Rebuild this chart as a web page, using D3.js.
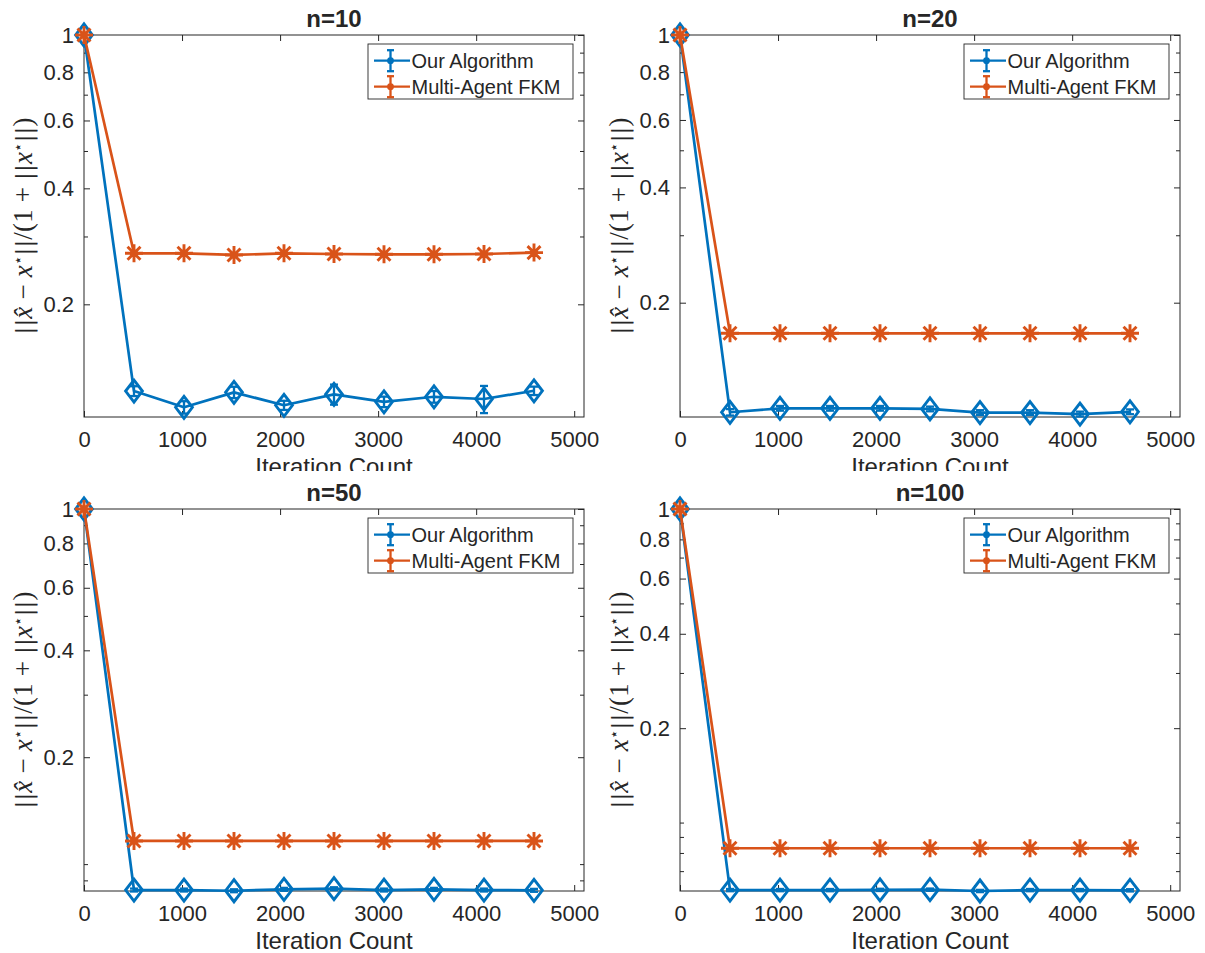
<!DOCTYPE html>
<html>
<head>
<meta charset="utf-8">
<script src="https://cdn.jsdelivr.net/npm/d3@7/dist/d3.min.js"></script>
<style>
  html, body { margin: 0; padding: 0; background: #fff; }
  svg { display: block; }
  text { font-family: "Liberation Sans", Arial, Helvetica, sans-serif; fill: #262626; }
</style>
</head>
<body>
<svg id="chart" width="1205" height="953"></svg>
<script>
// ---------------- data ----------------
const iterations = [0, 510, 1020, 1530, 2040, 2550, 3060, 3570, 4080, 4590];
const panelTitles = ["n=10", "n=20", "n=50", "n=100"];
const seriesNames = ["Our Algorithm", "Multi-Agent FKM"];

const oursN10   = [1, 0.1191, 0.1081, 0.1182, 0.1094, 0.1168, 0.1117, 0.1151, 0.1136, 0.1193];
const oursErrN10 = [0, 0.0035, 0.0040, 0.0040, 0.0030, 0.0070, 0.0035, 0.0040, 0.0092, 0.0030];
const fkmN10    = [1, 0.2713, 0.2713, 0.2686, 0.2713, 0.2702, 0.2697, 0.2697, 0.2702, 0.2724];
const fkmErrN10  = [0, 0.0010, 0.0010, 0.0010, 0.0010, 0.0010, 0.0010, 0.0010, 0.0010, 0.0010];

const oursN20   = [1, 0.1035, 0.1060, 0.1060, 0.1060, 0.1056, 0.1033, 0.1033, 0.1024, 0.1038];
const oursErrN20 = [0, 0.0020, 0.0015, 0.0015, 0.0015, 0.0015, 0.0015, 0.0015, 0.0015, 0.0015];
const fkmN20    = [1, 0.1664, 0.1664, 0.1664, 0.1664, 0.1664, 0.1664, 0.1664, 0.1664, 0.1664];
const fkmErrN20  = [0, 0.0005, 0.0005, 0.0005, 0.0005, 0.0005, 0.0005, 0.0005, 0.0005, 0.0005];

const oursN50   = [1, 0.08453, 0.08453, 0.08414, 0.08492, 0.08526, 0.08453, 0.08492, 0.08453, 0.08437];
const oursErrN50 = [0, 0.0008, 0.0008, 0.0008, 0.0008, 0.0008, 0.0008, 0.0008, 0.0008, 0.0008];
const fkmN50    = [1, 0.1162, 0.1162, 0.1162, 0.1162, 0.1162, 0.1162, 0.1162, 0.1162, 0.1162];
const fkmErrN50  = [0, 0.0003, 0.0003, 0.0003, 0.0003, 0.0003, 0.0003, 0.0003, 0.0003, 0.0003];

const oursN100   = [1, 0.0609, 0.0609, 0.0609, 0.0610, 0.0611, 0.0605, 0.0609, 0.0609, 0.0608];
const oursErrN100 = [0, 0.0005, 0.0005, 0.0005, 0.0005, 0.0005, 0.0005, 0.0005, 0.0005, 0.0005];
const fkmN100    = [1, 0.0828, 0.0828, 0.0828, 0.0828, 0.0828, 0.0828, 0.0828, 0.0828, 0.0828];
const fkmErrN100  = [0, 0.0002, 0.0002, 0.0002, 0.0002, 0.0002, 0.0002, 0.0002, 0.0002, 0.0002];

const yLowerLimits = [0.1020, 0.1006, 0.0840, 0.0605];
const xLimits = [0, 5100];
const xTickValues = [0, 1000, 2000, 3000, 4000, 5000];
const yMajorTicks = [0.2, 0.4, 0.6, 0.8, 1];
const yMinorTicks = [0.06, 0.07, 0.08, 0.09, 0.1, 0.3, 0.5, 0.7, 0.9];
const xLabelText = "Iteration Count";

// ---------------- layout ----------------
const BLUE = "#0072BD", ORANGE = "#D95319", INK = "#262626";
const panelLeft = [84, 680, 84, 680];
const panelTop = [35, 35, 509, 509];
const plotW = 500, plotH = 382;

const panels = [
  { title: panelTitles[0], ours: oursN10, oursErr: oursErrN10, fkm: fkmN10, fkmErr: fkmErrN10, ymin: yLowerLimits[0] },
  { title: panelTitles[1], ours: oursN20, oursErr: oursErrN20, fkm: fkmN20, fkmErr: fkmErrN20, ymin: yLowerLimits[1] },
  { title: panelTitles[2], ours: oursN50, oursErr: oursErrN50, fkm: fkmN50, fkmErr: fkmErrN50, ymin: yLowerLimits[2] },
  { title: panelTitles[3], ours: oursN100, oursErr: oursErrN100, fkm: fkmN100, fkmErr: fkmErrN100, ymin: yLowerLimits[3] }
];

const svg = d3.select("#chart");
svg.append("defs").append("clipPath").attr("id", "topRowClip")
  .append("rect").attr("x", 0).attr("y", 0).attr("width", 1205).attr("height", 471);

const diamondPath = (w, h) => `M0,${-h}L${w},0L0,${h}L${-w},0Z`;
function asteriskPath(r) {
  const d = r * 0.72;
  return `M0,${-r}L0,${r}M${-r},0L${r},0M${-d},${-d}L${d},${d}M${-d},${d}L${d},${-d}`;
}

panels.forEach((p, i) => {
  const left = panelLeft[i], top = panelTop[i];
  const g = svg.append("g");
  if (i < 2) g.attr("clip-path", "url(#topRowClip)");

  const x = d3.scaleLinear().domain(xLimits).range([left, left + plotW]);
  const y = d3.scaleLog().domain([p.ymin, 1]).range([top + plotH, top]);

  // axes (inward ticks)
  const fmt = d3.format("~g");
  const minor = yMinorTicks.filter(v => v > p.ymin && v < 1);
  const axB = g.append("g").attr("transform", `translate(0,${top + plotH})`)
    .call(d3.axisBottom(x).tickValues(xTickValues).tickFormat(fmt).tickSizeInner(-6).tickSizeOuter(0).tickPadding(14));
  const axT = g.append("g").attr("transform", `translate(0,${top})`)
    .call(d3.axisTop(x).tickValues(xTickValues).tickFormat("").tickSizeInner(-6).tickSizeOuter(0));
  const axL = g.append("g").attr("transform", `translate(${left},0)`)
    .call(d3.axisLeft(y).tickValues(yMajorTicks).tickFormat(fmt).tickSizeInner(-6).tickSizeOuter(0).tickPadding(10));
  const axLm = g.append("g").attr("transform", `translate(${left},0)`)
    .call(d3.axisLeft(y).tickValues(minor).tickFormat("").tickSizeInner(-4).tickSizeOuter(0));
  const axR = g.append("g").attr("transform", `translate(${left + plotW},0)`)
    .call(d3.axisRight(y).tickValues(yMajorTicks).tickFormat("").tickSizeInner(-6).tickSizeOuter(0));
  const axRm = g.append("g").attr("transform", `translate(${left + plotW},0)`)
    .call(d3.axisRight(y).tickValues(minor).tickFormat("").tickSizeInner(-4).tickSizeOuter(0));
  [axB, axT, axL, axLm, axR, axRm].forEach(a => {
    a.select(".domain").remove();
    a.selectAll("line").attr("stroke", INK).attr("stroke-width", 1);
    a.selectAll("text").style("font-size", "22px").attr("fill", INK)
      .style("font-family", '"Liberation Sans", Arial, sans-serif');
  });

  // box
  g.append("rect").attr("x", left).attr("y", top).attr("width", plotW).attr("height", plotH)
    .attr("fill", "none").attr("stroke", INK).attr("stroke-width", 1);

  // title
  g.append("text").attr("x", left + plotW / 2).attr("y", top - 8.5)
    .attr("text-anchor", "middle").style("font-size", "24px").style("font-weight", "bold")
    .attr("fill", "#000").text(p.title);

  // x label
  g.append("text").attr("x", left + plotW / 2).attr("y", top + plotH + 57.5)
    .attr("text-anchor", "middle").style("font-size", "24px").text(xLabelText);

  // y label (math)
  const yl = g.append("text")
    .attr("transform", `translate(${left - 52},${top + plotH / 2}) rotate(-90)`)
    .attr("text-anchor", "middle")
    .attr("textLength", 217).attr("lengthAdjust", "spacing")
    .style("font-family", '"Liberation Serif", "DejaVu Serif", serif')
    .style("font-size", "27px").attr("fill", "#3a3a3a");
  const bars = t => yl.append("tspan").style("font-family", '"DejaVu Serif", serif').style("font-size", "23px").text(t);
  bars("||");
  yl.append("tspan").style("font-style", "italic").text("x\u0302");
  yl.append("tspan").text(" \u2212 ");
  yl.append("tspan").style("font-style", "italic").text("x");
  yl.append("tspan").attr("baseline-shift", "super").style("font-size", "15px").style("font-family", '"DejaVu Sans", sans-serif').text("\u22C6");
  bars("||");
  yl.append("tspan").text("/(1 + ");
  bars("||");
  yl.append("tspan").style("font-style", "italic").text("x");
  yl.append("tspan").attr("baseline-shift", "super").style("font-size", "15px").style("font-family", '"DejaVu Sans", sans-serif').text("\u22C6");
  bars("||");
  yl.append("tspan").text(")");

  // series
  const series = [
    { vals: p.ours, errs: p.oursErr, color: BLUE, marker: "diamond" },
    { vals: p.fkm, errs: p.fkmErr, color: ORANGE, marker: "asterisk" }
  ];
  const line = d3.line().x(d => x(d.it)).y(d => y(d.v));
  series.forEach(s => {
    const data = iterations.map((it, k) => ({ it, v: s.vals[k], e: s.errs[k] }));
    const sg = g.append("g");
    sg.append("path").datum(data).attr("d", line)
      .attr("fill", "none").attr("stroke", s.color).attr("stroke-width", 2.7).attr("stroke-linejoin", "round");
    // error bars
    const eb = sg.selectAll(".eb").data(data.filter(d => d.e > 0)).join("g");
    eb.append("line").attr("x1", d => x(d.it)).attr("x2", d => x(d.it))
      .attr("y1", d => y(d.v + d.e)).attr("y2", d => y(Math.max(d.v - d.e, 1e-4)))
      .attr("stroke", s.color).attr("stroke-width", 2.3);
    eb.append("line").attr("x1", d => x(d.it) - 4).attr("x2", d => x(d.it) + 4)
      .attr("y1", d => y(d.v + d.e)).attr("y2", d => y(d.v + d.e))
      .attr("stroke", s.color).attr("stroke-width", 2.3);
    eb.append("line").attr("x1", d => x(d.it) - 4).attr("x2", d => x(d.it) + 4)
      .attr("y1", d => y(d.v - d.e)).attr("y2", d => y(d.v - d.e))
      .attr("stroke", s.color).attr("stroke-width", 2.3);
    // markers
    sg.selectAll(".mk").data(data).join("path")
      .attr("transform", d => `translate(${x(d.it)},${y(d.v)})`)
      .attr("d", s.marker === "diamond" ? diamondPath(8.4, 11) : asteriskPath(9))
      .attr("fill", "none").attr("stroke", s.color).attr("stroke-width", 2.9)
      .attr("stroke-linejoin", "miter");
  });

  // legend
  const lw = 205, lh = 55;
  const lx = left + plotW - 11 - lw, ly = top + 9;
  const lg = g.append("g").attr("transform", `translate(${lx},${ly})`);
  lg.append("rect").attr("width", lw).attr("height", lh).attr("fill", "#fff")
    .attr("stroke", INK).attr("stroke-width", 0.9);
  [BLUE, ORANGE].forEach((c, k) => {
    const cy = 16.7 + k * 26;
    lg.append("line").attr("x1", 6).attr("x2", 42).attr("y1", cy).attr("y2", cy)
      .attr("stroke", c).attr("stroke-width", 2.3);
    lg.append("line").attr("x1", 22.5).attr("x2", 22.5).attr("y1", cy - 10.5).attr("y2", cy + 10.5)
      .attr("stroke", c).attr("stroke-width", 2.3);
    lg.append("line").attr("x1", 19).attr("x2", 26).attr("y1", cy - 10.5).attr("y2", cy - 10.5)
      .attr("stroke", c).attr("stroke-width", 2.3);
    lg.append("line").attr("x1", 19).attr("x2", 26).attr("y1", cy + 10.5).attr("y2", cy + 10.5)
      .attr("stroke", c).attr("stroke-width", 2.3);
    lg.append("circle").attr("cx", 22.5).attr("cy", cy).attr("r", 3.4).attr("fill", c);
    lg.append("text").attr("x", 43.5).attr("y", cy).attr("dy", "0.36em")
      .style("font-size", "20px").attr("fill", "#000").text(seriesNames[k]);
  });
});
</script>
</body>
</html>
